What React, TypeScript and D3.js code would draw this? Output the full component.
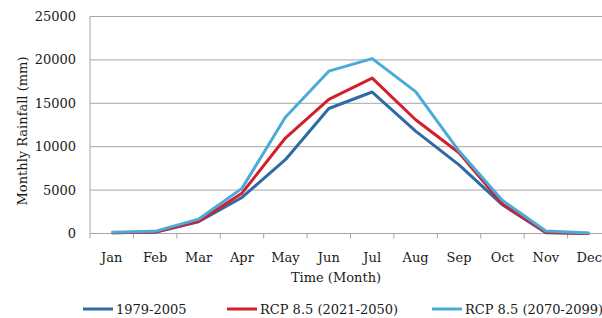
import * as d3 from "d3";
import React from "react";

const months = ["Jan", "Feb", "Mar", "Apr", "May", "Jun", "Jul", "Aug", "Sep", "Oct", "Nov", "Dec"];
const baseline = [100, 150, 1350, 4150, 8500, 14400, 16300, 11800, 7900, 3300, 100, 0];
const rcpMid = [100, 180, 1400, 4650, 11000, 15450, 17900, 13100, 9300, 3400, 150, 0];
const rcpEnd = [150, 250, 1650, 5200, 13400, 18700, 20150, 16350, 9500, 3800, 300, 50];
const yTicks = [0, 5000, 10000, 15000, 20000, 25000];

const series = [
    { name: "1979-2005", values: baseline, color: "#2f69a6" },
    { name: "RCP 8.5 (2021-2050)", values: rcpMid, color: "#d1202b" },
    { name: "RCP 8.5 (2070-2099)", values: rcpEnd, color: "#4aabd8" },
];

const W = 602;
const H = 318;
const margin = { top: 16.5, left: 90, bottom: 84.5 };
const plotRight = 611;
const font = "'DejaVu Serif', serif";
const fs = 13;

export default function App() {
    const x = d3.scaleBand().domain(months).range([margin.left, plotRight]);
    const y = d3.scaleLinear().domain([0, 25000]).range([H - margin.bottom, margin.top]);
    const cx = (m: string) => (x(m) as number) + x.bandwidth() / 2;

    const line = d3
        .line<number>()
        .x((_, i) => cx(months[i]))
        .y((d) => y(d));

    // legend swatch starts
    const legendX = [83, 227, 432];

    return (
        <svg width={W} height={H} style={{ position: "absolute", left: 0, top: 0, background: "#fff" }}>
            {yTicks.map((t) => (
                <g key={t}>
                    {t > 0 && (
                        <line x1={margin.left} x2={plotRight} y1={y(t)} y2={y(t)} stroke="#a6a6a6" strokeWidth={1} />
                    )}
                    <text x={76} y={y(t)} dy="0.35em" textAnchor="end" fontFamily={font} fontSize={fs} fill="#1a1a1a">
                        {t}
                    </text>
                </g>
            ))}
            <line x1={margin.left} x2={margin.left} y1={margin.top} y2={y(0)} stroke="#a6a6a6" />
            <line x1={margin.left} x2={plotRight} y1={y(0)} y2={y(0)} stroke="#a6a6a6" />
            {months.map((m) => (
                <g key={m}>
                    <line x1={x(m)} x2={x(m)} y1={y(0)} y2={y(0) + 5} stroke="#a6a6a6" />
                    <text x={cx(m)} y={257} dy="0.35em" textAnchor="middle" fontFamily={font} fontSize={fs} fill="#1a1a1a">
                        {m}
                    </text>
                </g>
            ))}
            {series.map((s) => (
                <path key={s.name} d={line(s.values) ?? ""} fill="none" stroke={s.color} strokeWidth={3} strokeLinejoin="round" />
            ))}
            <text x={336} y={277} dy="0.35em" textAnchor="middle" fontFamily={font} fontSize={fs} fill="#1a1a1a">
                Time (Month)
            </text>
            <text
                transform={`translate(22, ${(margin.top + y(0)) / 2 + 6}) rotate(-90)`}
                dy="0.35em"
                textAnchor="middle"
                fontFamily={font}
                fontSize={fs}
                fill="#1a1a1a"
            >
                Monthly Rainfall (mm)
            </text>
            {series.map((s, i) => (
                <g key={s.name} transform={`translate(${legendX[i]}, 309)`}>
                    <line x1={0} x2={30} y1={0} y2={0} stroke={s.color} strokeWidth={3} />
                    <text x={33} dy="0.35em" fontFamily={font} fontSize={fs} fill="#1a1a1a">
                        {s.name}
                    </text>
                </g>
            ))}
        </svg>
    );
}
